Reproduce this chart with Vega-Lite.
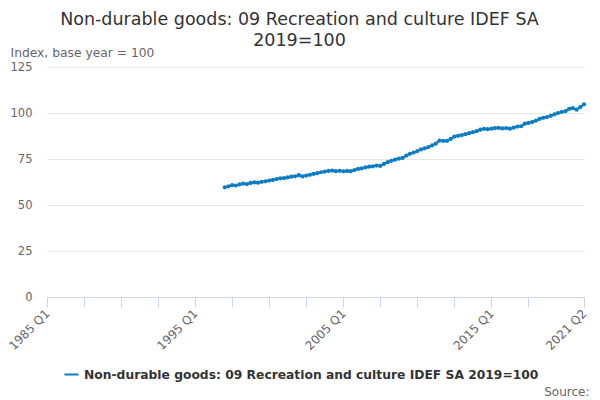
{
  "$schema": "https://vega.github.io/schema/vega-lite/v6.json",
  "autosize": "none",
  "width": 537,
  "height": 230,
  "padding": {"left": 47, "top": 67, "right": 16, "bottom": 103},
  "background": "white",
  "config": {
    "font": "DejaVu Sans",
    "view": {"stroke": null}
  },
  "title": {
    "text": ["Non-durable goods: 09 Recreation and culture IDEF SA", "2019=100"],
    "fontSize": 17.5,
    "fontWeight": "normal",
    "color": "#333333",
    "anchor": "middle",
    "dx": -16,
    "offset": -3,
    "lineHeight": 21
  },
  "data": {
    "values": [
      {"date": "1997-01-01", "value": 59.6}, {"date": "1997-04-01", "value": 60.1}, {"date": "1997-07-01", "value": 60.8}, {"date": "1997-10-01", "value": 60.6},
      {"date": "1998-01-01", "value": 61.2}, {"date": "1998-04-01", "value": 61.6}, {"date": "1998-07-01", "value": 61.4}, {"date": "1998-10-01", "value": 62.0},
      {"date": "1999-01-01", "value": 62.3}, {"date": "1999-04-01", "value": 62.1}, {"date": "1999-07-01", "value": 62.6}, {"date": "1999-10-01", "value": 62.9},
      {"date": "2000-01-01", "value": 63.3}, {"date": "2000-04-01", "value": 63.6}, {"date": "2000-07-01", "value": 64.1}, {"date": "2000-10-01", "value": 64.5},
      {"date": "2001-01-01", "value": 64.6}, {"date": "2001-04-01", "value": 65.0}, {"date": "2001-07-01", "value": 65.4}, {"date": "2001-10-01", "value": 65.6},
      {"date": "2002-01-01", "value": 66.2}, {"date": "2002-04-01", "value": 65.5}, {"date": "2002-07-01", "value": 66.0}, {"date": "2002-10-01", "value": 66.4},
      {"date": "2003-01-01", "value": 66.9}, {"date": "2003-04-01", "value": 67.3}, {"date": "2003-07-01", "value": 67.8}, {"date": "2003-10-01", "value": 68.2},
      {"date": "2004-01-01", "value": 68.5}, {"date": "2004-04-01", "value": 68.7}, {"date": "2004-07-01", "value": 68.4}, {"date": "2004-10-01", "value": 68.6},
      {"date": "2005-01-01", "value": 68.3}, {"date": "2005-04-01", "value": 68.5}, {"date": "2005-07-01", "value": 68.4}, {"date": "2005-10-01", "value": 69.0},
      {"date": "2006-01-01", "value": 69.6}, {"date": "2006-04-01", "value": 69.9}, {"date": "2006-07-01", "value": 70.4}, {"date": "2006-10-01", "value": 70.8},
      {"date": "2007-01-01", "value": 71.0}, {"date": "2007-04-01", "value": 71.4}, {"date": "2007-07-01", "value": 71.2}, {"date": "2007-10-01", "value": 72.3},
      {"date": "2008-01-01", "value": 73.3}, {"date": "2008-04-01", "value": 74.0}, {"date": "2008-07-01", "value": 74.6}, {"date": "2008-10-01", "value": 75.2},
      {"date": "2009-01-01", "value": 75.6}, {"date": "2009-04-01", "value": 76.8}, {"date": "2009-07-01", "value": 77.8}, {"date": "2009-10-01", "value": 78.5},
      {"date": "2010-01-01", "value": 79.3}, {"date": "2010-04-01", "value": 80.2}, {"date": "2010-07-01", "value": 80.8}, {"date": "2010-10-01", "value": 81.5},
      {"date": "2011-01-01", "value": 82.4}, {"date": "2011-04-01", "value": 83.4}, {"date": "2011-07-01", "value": 85.0}, {"date": "2011-10-01", "value": 84.8},
      {"date": "2012-01-01", "value": 84.8}, {"date": "2012-04-01", "value": 85.9}, {"date": "2012-07-01", "value": 87.2}, {"date": "2012-10-01", "value": 87.6},
      {"date": "2013-01-01", "value": 88.0}, {"date": "2013-04-01", "value": 88.5}, {"date": "2013-07-01", "value": 89.0}, {"date": "2013-10-01", "value": 89.6},
      {"date": "2014-01-01", "value": 90.1}, {"date": "2014-04-01", "value": 90.9}, {"date": "2014-07-01", "value": 91.4}, {"date": "2014-10-01", "value": 91.2},
      {"date": "2015-01-01", "value": 91.5}, {"date": "2015-04-01", "value": 91.8}, {"date": "2015-07-01", "value": 91.9}, {"date": "2015-10-01", "value": 91.6},
      {"date": "2016-01-01", "value": 91.8}, {"date": "2016-04-01", "value": 91.5}, {"date": "2016-07-01", "value": 92.0}, {"date": "2016-10-01", "value": 92.6},
      {"date": "2017-01-01", "value": 92.8}, {"date": "2017-04-01", "value": 94.2}, {"date": "2017-07-01", "value": 94.6}, {"date": "2017-10-01", "value": 95.1},
      {"date": "2018-01-01", "value": 95.8}, {"date": "2018-04-01", "value": 96.8}, {"date": "2018-07-01", "value": 97.4}, {"date": "2018-10-01", "value": 97.8},
      {"date": "2019-01-01", "value": 98.5}, {"date": "2019-04-01", "value": 99.2}, {"date": "2019-07-01", "value": 100.0}, {"date": "2019-10-01", "value": 100.6},
      {"date": "2020-01-01", "value": 101.0}, {"date": "2020-04-01", "value": 102.3}, {"date": "2020-07-01", "value": 102.6}, {"date": "2020-10-01", "value": 101.8},
      {"date": "2021-01-01", "value": 103.2}, {"date": "2021-04-01", "value": 104.7}
    ]
  },
  "transform": [
    {"calculate": "'Non-durable goods: 09 Recreation and culture IDEF SA 2019=100'", "as": "series"}
  ],
  "mark": {
    "type": "line",
    "strokeWidth": 2,
    "point": {"filled": true, "size": 18}
  },
  "encoding": {
    "x": {
      "field": "date",
      "type": "temporal",
      "scale": {
        "type": "utc",
        "nice": false,
        "domain": [
          {"year": 1985, "month": 1, "date": 1, "utc": true},
          {"year": 2021, "month": 4, "date": 1, "utc": true}
        ]
      },
      "axis": {
        "title": "Source:",
        "titleAnchor": "end",
        "titleAlign": "right",
        "titleX": 542,
        "titleY": 89,
        "titleFontSize": 12,
        "titleFontWeight": "normal",
        "titleColor": "#666666",
        "values": [
          {"year": 1985, "month": 1, "date": 1, "utc": true},
          {"year": 1987, "month": 7, "date": 1, "utc": true},
          {"year": 1990, "month": 1, "date": 1, "utc": true},
          {"year": 1992, "month": 7, "date": 1, "utc": true},
          {"year": 1995, "month": 1, "date": 1, "utc": true},
          {"year": 1997, "month": 7, "date": 1, "utc": true},
          {"year": 2000, "month": 1, "date": 1, "utc": true},
          {"year": 2002, "month": 7, "date": 1, "utc": true},
          {"year": 2005, "month": 1, "date": 1, "utc": true},
          {"year": 2007, "month": 7, "date": 1, "utc": true},
          {"year": 2010, "month": 1, "date": 1, "utc": true},
          {"year": 2012, "month": 7, "date": 1, "utc": true},
          {"year": 2015, "month": 1, "date": 1, "utc": true},
          {"year": 2017, "month": 7, "date": 1, "utc": true},
          {"year": 2021, "month": 4, "date": 1, "utc": true}
        ],
        "labelExpr": "(utcmonth(datum.value) == 0 && utcyear(datum.value) % 10 == 5) || utcyear(datum.value) == 2021 ? utcFormat(datum.value, '%Y Q%q') : ''",
        "labelAngle": -45,
        "labelAlign": "right",
        "labelBaseline": "middle",
        "labelFontSize": 12,
        "labelColor": "#666666",
        "labelOverlap": false,
        "labelPadding": 4,
        "grid": false,
        "domainColor": "#ccd6eb",
        "tickColor": "#ccd6eb",
        "tickSize": 10
      }
    },
    "y": {
      "field": "value",
      "type": "quantitative",
      "scale": {"domain": [0, 125], "nice": false},
      "axis": {
        "title": "Index, base year = 100",
        "titleAngle": 0,
        "titleAlign": "left",
        "titleBaseline": "middle",
        "titleX": -37,
        "titleY": -15,
        "titleFontSize": 12.3,
        "titleFontWeight": "normal",
        "titleColor": "#666666",
        "values": [0, 25, 50, 75, 100, 125],
        "labelFontSize": 11.5,
        "labelColor": "#666666",
        "labelPadding": 15,
        "domain": false,
        "ticks": false,
        "gridColor": "#e6e6e6"
      }
    },
    "color": {
      "field": "series",
      "type": "nominal",
      "scale": {"range": ["#0b7dc3"]},
      "legend": {
        "title": null,
        "orient": "none",
        "legendX": 16,
        "legendY": 299,
        "symbolType": "stroke",
        "symbolStrokeWidth": 2,
        "symbolSize": 200,
        "labelFontSize": 12.3,
        "labelFontWeight": "bold",
        "labelColor": "#333333",
        "labelLimit": 600
      }
    }
  }
}
